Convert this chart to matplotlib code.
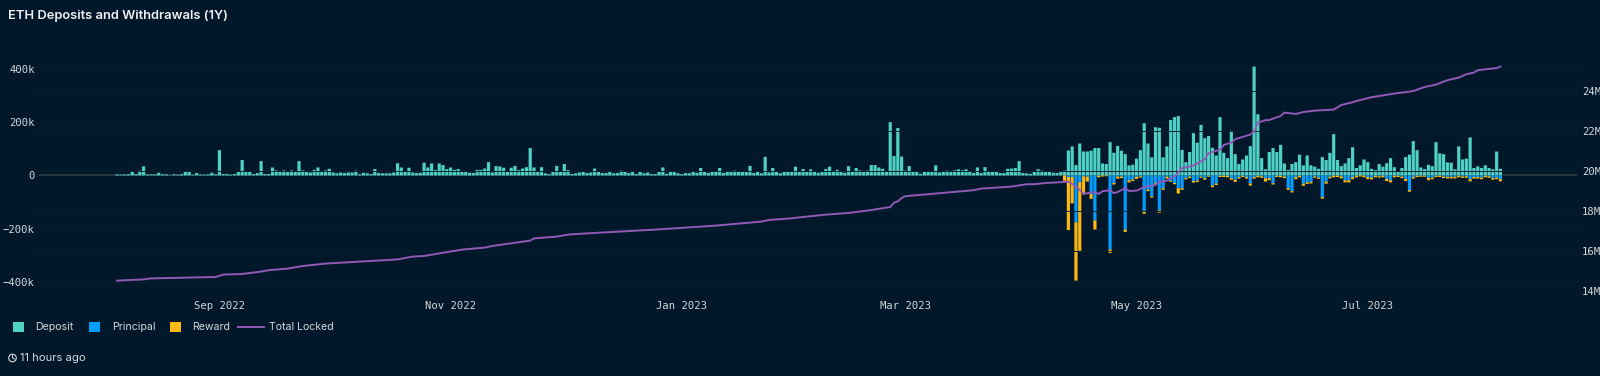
import numpy as np
import pandas as pd
import matplotlib
matplotlib.use("Agg")
import matplotlib.pyplot as plt
import matplotlib.dates as mdates
from matplotlib.patches import Rectangle, Circle
from matplotlib.lines import Line2D

W, H = 1600, 376
BG = "#01182a"
GRID = "#06202f"
TEAL = "#4fd1c5"
BLUE = "#009eff"
YELLOW = "#fdb813"
PURPLE = "#9259b8"
TEXT = "#d5d8da"

first_day = "2022-08-05"

# daily values in thousands of ETH
deposit = [
    4,3,4,4,15,5,18,34,4,4,4,10,4,4,1,4,3,5,13,13,3,9,3,3,4,10,4,95,5,5,3,5,13,58,14,16,5,9,54,5,5,30,19,15,19,16,19,13,54,19,14,11,21,30,15,19,25,11,8,11,9,11,
    11,18,4,10,8,5,24,9,8,8,8,11,46,30,13,29,11,9,10,48,30,45,20,45,39,24,30,21,24,15,15,10,9,21,21,26,50,11,35,34,29,16,29,36,20,26,31,103,30,16,31,8,5,13,36,13,43,20,5,8,11,15,9,
    11,26,13,9,9,13,8,9,18,13,9,14,5,13,8,11,5,5,13,30,6,14,13,8,5,9,8,14,10,28,13,9,13,15,28,9,14,14,18,16,13,13,36,9,13,8,70,11,28,13,8,14,14,14,33,15,24,13,23,14,10,13,24,33,
    16,21,13,10,35,16,28,19,14,18,39,39,30,25,15,200,73,178,71,18,35,16,13,6,16,15,15,38,11,15,18,15,19,23,19,23,16,9,30,9,31,16,14,14,9,9,25,26,28,54,9,8,6,16,23,18,14,14,10,9,13,18,
    94,109,39,120,90,90,93,103,103,45,43,125,85,111,93,80,38,40,63,95,196,120,68,181,179,68,109,208,219,223,
    96,50,88,159,123,190,140,148,104,75,219,85,65,168,80,43,60,75,110,409,230,65,23,88,103,88,115,45,21,43,50,78,38,75,38,33,25,69,58,85,155,58,
    35,45,65,106,28,38,60,50,25,20,43,33,46,65,31,13,28,69,78,129,95,30,24,40,35,125,83,80,49,48,23,109,60,63,143,28,34,28,38,28,23,90,25,
]

# withdrawals only start in April 2023 (day 250)
principal = [0] * 250 + [
    0,6,6,176,25,3,4,70,169,1,0,0,278,28,4,4,203,18,15,5,3,133,53,78,29,131,48,4,20,28,48,
    48,10,4,21,19,4,10,1,38,30,1,1,1,10,16,6,1,6,30,6,1,3,10,10,29,1,1,4,48,59,6,1,31,26,24,4,8,81,23,5,1,1,
    3,18,18,6,1,0,1,6,9,1,3,1,13,18,1,1,4,13,55,6,1,1,1,10,8,1,1,4,5,5,5,1,4,3,14,6,6,8,1,3,10,8,14,
]
reward = [0] * 250 + [
    20,199,99,219,258,68,19,18,34,6,4,3,13,6,8,6,9,8,6,8,5,11,6,5,4,9,6,8,4,5,20,
    6,5,6,6,6,5,6,4,6,6,5,5,6,6,8,6,5,6,8,6,6,6,13,8,5,5,6,6,6,5,8,6,8,6,6,5,5,6,8,6,6,5,
    8,8,8,8,6,4,6,8,6,6,5,6,8,8,6,5,6,8,6,6,5,4,4,8,6,5,5,6,6,6,6,6,5,6,8,6,6,6,6,6,6,6,8,
]

# total locked, millions of ETH, read at the line's bends
locked_day = [0,7,9,26,28,33,38,40,45,49,55,74,78,81,85,91,97,99,109,110,116,119,123,142,158,170,172,177,187,193,199,204,205,206,207,208,226,228,236,240,242,245,249,251,252,254,255,256,258,259,260,262,263,264,266,267,269,271,274,275,277,279,281,284,287,288,291,292,294,295,299,300,301,303,304,307,308,311,313,316,321,323,326,328,331,338,340,342,345,348,351,354,356,358,359,364,365]
locked_total = [14.52,14.58,14.63,14.70,14.82,14.85,14.97,15.04,15.12,15.25,15.37,15.58,15.72,15.75,15.88,16.07,16.17,16.25,16.52,16.63,16.72,16.82,16.87,17.07,17.27,17.47,17.55,17.62,17.82,17.90,18.05,18.20,18.42,18.48,18.65,18.74,19.04,19.12,19.22,19.34,19.34,19.40,19.44,19.47,19.35,19.05,18.85,18.89,18.95,18.85,18.99,19.04,18.89,18.95,19.14,19.0,19.02,19.19,19.3,19.45,19.52,19.72,20.14,20.27,20.59,20.89,21.07,21.3,21.42,21.59,21.82,21.97,22.42,22.54,22.55,22.75,22.92,22.85,22.95,23.02,23.07,23.3,23.44,23.55,23.69,23.9,23.94,24.0,24.2,24.32,24.54,24.67,24.84,24.92,25.04,25.15,25.22]

x_ticks = ["2022-09-01", "2022-11-01", "2023-01-01", "2023-03-01", "2023-05-01", "2023-07-01"]
left_ticks = [-400, -200, 0, 200, 400]
left_labels = ["\u2212400k", "\u2212200k", "0", "200k", "400k"]
right_ticks = [14, 16, 18, 20, 22, 24]
right_labels = ["14M", "16M", "18M", "20M", "22M", "24M"]

days = pd.date_range(first_day, periods=len(deposit), freq="D")
deposit = np.array(deposit)
principal = np.array(principal)
reward = np.array(reward)

plt.rcParams["font.family"] = ["Inter", "DejaVu Sans"]
fig = plt.figure(figsize=(W / 100, H / 100), dpi=100, facecolor=BG)

# axes box in pixels of the picture
ax_l, ax_r, ax_t, ax_b = 39, 1577, 45, 291
ax = fig.add_axes([ax_l / W, 1 - ax_b / H, (ax_r - ax_l) / W, (ax_b - ax_t) / H], facecolor=BG)

# unsnapped bars so every day gets the same width, the target is soft too
for bars in (
    ax.bar(days, deposit, width=0.84, color=TEAL, linewidth=0, zorder=3),
    ax.bar(days, -principal, width=0.84, color=BLUE, linewidth=0, zorder=3),
    ax.bar(days, -reward, bottom=-principal, width=0.84, color=YELLOW, linewidth=0, zorder=3),
):
    for b in bars:
        b.set_snap(False)
ax.axhline(0, color="#2e3b43", linewidth=1.2, zorder=2)

start = days[0]
ax.set_xlim(start + pd.Timedelta(days=-20.6), start + pd.Timedelta(days=385.2))
ax.set_ylim(-434, 490)
ax.set_xticks(pd.to_datetime(x_ticks))
ax.xaxis.set_major_formatter(mdates.DateFormatter("%b %Y"))
ax.set_yticks(left_ticks)
ax.set_yticklabels(left_labels)
ax.grid(axis="y", color=GRID, linewidth=0.7, zorder=0)

ax2 = ax.twinx()
ax2.set_ylim(14.0, 26.3)
ax2.set_yticks(right_ticks)
ax2.set_yticklabels(right_labels)
ax2.grid(axis="y", color=GRID, linewidth=0.7, zorder=0)
locked_dates = start + pd.to_timedelta(locked_day, unit="D")
ax2.plot(locked_dates, locked_total, color=PURPLE, linewidth=1.4, zorder=5)

for a in (ax, ax2):
    for s in a.spines.values():
        s.set_visible(False)
    a.tick_params(length=0, labelsize=7.6, labelcolor=TEXT, labelfontfamily="DejaVu Sans Mono")
ax.tick_params(axis="y", pad=3)
ax.tick_params(axis="x", pad=7)
ax2.tick_params(axis="y", pad=3.4)


def fx(px):
    return px / W


def fy(py):
    return 1 - py / H


fig.text(fx(8), fy(16), "ETH Deposits and Withdrawals (1Y)", color="#eef0f1", fontsize=9.3,
         fontweight="semibold", va="center")

# legend placed by hand, like the dashboard does it
for left, col, label, tx in [(13, TEAL, "Deposit", 35.5), (89, BLUE, "Principal", 112), (170, YELLOW, "Reward", 192.5)]:
    fig.add_artist(Rectangle((fx(left), fy(332)), 11 / W, 10 / H, transform=fig.transFigure,
                             facecolor=col, edgecolor="none"))
    fig.text(fx(tx), fy(327), label, color=TEXT, fontsize=7.6, va="center")
fig.add_artist(Line2D([fx(238), fx(264)], [fy(327), fy(327)], color=PURPLE, linewidth=1.4))
fig.text(fx(269), fy(327), "Total Locked", color=TEXT, fontsize=7.6, va="center")

# little clock in front of the age text
fig.add_artist(Circle((12.5, H - 358), 3.8, transform=None, facecolor="none", edgecolor=TEXT, linewidth=0.8))
fig.add_artist(Line2D([fx(12.5), fx(12.5), fx(14.5)], [fy(355.5), fy(358), fy(359)], color=TEXT, linewidth=0.7))
fig.text(fx(20.5), fy(358), "11 hours ago", color=TEXT, fontsize=8.1, va="center")

fig.savefig("out.png", dpi=100, facecolor=BG)
